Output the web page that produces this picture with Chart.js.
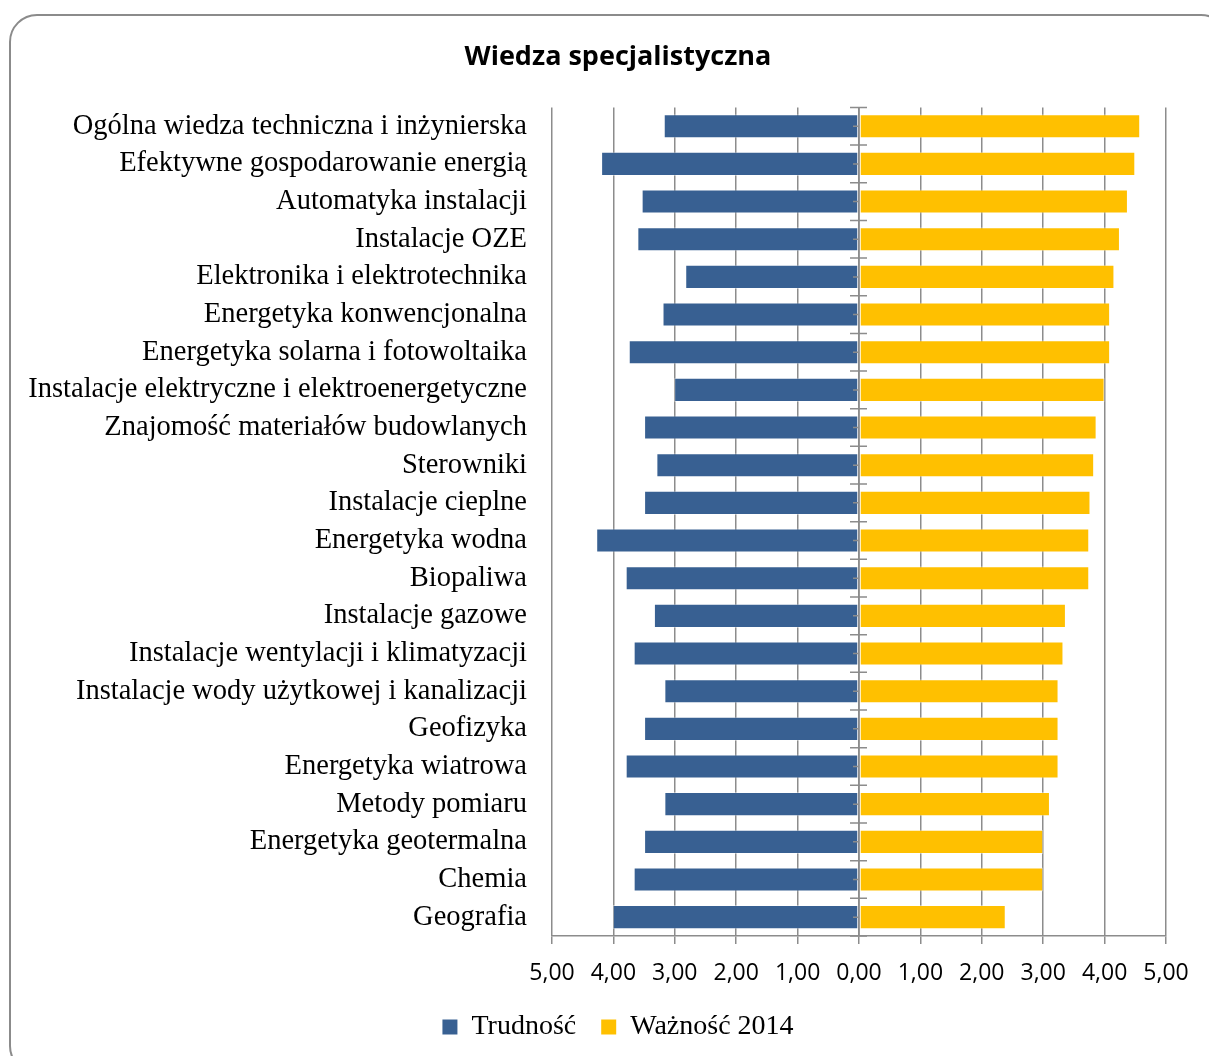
<!DOCTYPE html>
<html>
<head>
<meta charset="utf-8">
<title>Wiedza specjalistyczna</title>
<script src="https://cdn.jsdelivr.net/npm/chart.js@4"></script>
<style>
  html, body { margin: 0; padding: 0; background: #fff; overflow: hidden; }
  #wrap { position: relative; width: 1209px; height: 1056px; }
  #frame { position: absolute; left: 9px; top: 14px; width: 1220px; height: 1060px;
           border: 2px solid #8b8b8b; border-radius: 28px; box-sizing: border-box; }
  canvas { position: absolute; left: 0; top: 0; }
</style>
</head>
<body>
<div id="wrap">
  <div id="frame"></div>
  <canvas id="chart" width="1209" height="1056"></canvas>
</div>
<script>
// kategorie (od góry)
const categories = [
    'Ogólna wiedza techniczna i inżynierska',
    'Efektywne gospodarowanie energią',
    'Automatyka instalacji',
    'Instalacje OZE',
    'Elektronika i elektrotechnika',
    'Energetyka konwencjonalna',
    'Energetyka solarna i fotowoltaika',
    'Instalacje elektryczne i elektroenergetyczne',
    'Znajomość materiałów budowlanych',
    'Sterowniki',
    'Instalacje cieplne',
    'Energetyka wodna',
    'Biopaliwa',
    'Instalacje gazowe',
    'Instalacje wentylacji i klimatyzacji',
    'Instalacje wody użytkowej i kanalizacji',
    'Geofizyka',
    'Energetyka wiatrowa',
    'Metody pomiaru',
    'Energetyka geotermalna',
    'Chemia',
    'Geografia'
];

// Trudność (rysowana w lewo)
const trudnosc = [3.18, 4.20, 3.54, 3.61, 2.83, 3.20, 3.75, 3.01, 3.50, 3.30, 3.50,
                  4.28, 3.80, 3.34, 3.67, 3.17, 3.50, 3.80, 3.17, 3.50, 3.67, 4.01];

// Ważność 2014
const waznosc = [4.58, 4.50, 4.38, 4.25, 4.16, 4.09, 4.09, 4.00, 3.87, 3.83, 3.77,
                 3.75, 3.75, 3.37, 3.33, 3.25, 3.25, 3.25, 3.11, 3.00, 3.00, 2.39];

const xTicks = [-5, -4, -3, -2, -1, 0, 1, 2, 3, 4, 5];

const serif = '"Liberation Serif", "DejaVu Serif", serif';
const sans = '"Open Sans", "Liberation Sans", sans-serif';
const gridColor = '#8c8c8c';

// oś pionowa w zerze z kreskami podziału
const zeroAxis = {
    id: 'zeroAxis',
    afterLayout(chart) {
        // długie etykiety nie mogą być ucinane przez padding
        chart.scales.y.left = 0;
    },
    afterDatasetsDraw(chart) {
        const ctx = chart.ctx;
        const x = chart.scales.x;
        const y = chart.scales.y;
        const x0 = x.getPixelForValue(0);
        ctx.save();
        ctx.strokeStyle = gridColor;
        ctx.lineWidth = 1.5;
        ctx.beginPath();
        ctx.moveTo(x0, chart.chartArea.top);
        ctx.lineTo(x0, chart.chartArea.bottom);
        for (let i = 0; i <= categories.length; i++) {
            const yy = y.getPixelForValue(i - 0.5);
            ctx.moveTo(x0 - 9, yy);
            ctx.lineTo(x0 + 8, yy);
        }
        for (let i = 0; i < categories.length; i++) {
            const yy = y.getPixelForValue(i);
            ctx.moveTo(x0 - 6, yy);
            ctx.lineTo(x0 - 1, yy);
        }
        ctx.stroke();
        ctx.restore();
    }
};

new Chart(document.getElementById('chart').getContext('2d'), {
    type: 'bar',
    data: {
        labels: categories,
        datasets: [{
            label: 'Trudność',
            data: trudnosc.map(v => -v),
            backgroundColor: '#386092',
            borderColor: 'rgba(255,255,255,0.4)',
            borderWidth: 1,
            borderSkipped: false
        }, {
            label: 'Ważność 2014',
            data: waznosc,
            backgroundColor: '#FFC000',
            borderColor: 'rgba(255,255,255,0.4)',
            borderWidth: 1,
            borderSkipped: false
        }]
    },
    options: {
        indexAxis: 'y',
        responsive: false,
        animation: false,
        datasets: {
            bar: { categoryPercentage: 1, barPercentage: 0.64 }
        },
        layout: {
            padding: { top: 0, left: 70, right: 43, bottom: 5 }
        },
        plugins: {
            title: {
                display: true,
                text: 'Wiedza specjalistyczna',
                color: '#000',
                font: { family: sans, size: 27, weight: 'bold' },
                padding: { top: 41, bottom: 34 }
            },
            legend: {
                position: 'bottom',
                labels: {
                    color: '#000',
                    font: { family: serif, size: 28 },
                    boxWidth: 15,
                    boxHeight: 15,
                    padding: 4,
                    generateLabels(chart) {
                        const items = Chart.defaults.plugins.legend.labels.generateLabels(chart);
                        items.forEach((it, i) => {
                            it.lineWidth = 0;
                            if (i < items.length - 1) it.text = it.text + '   ';
                        });
                        return items;
                    }
                }
            },
            tooltip: { enabled: false }
        },
        scales: {
            x: {
                stacked: true,
                min: -5,
                max: 5,
                afterBuildTicks(scale) {
                    scale.ticks = xTicks.map(v => ({ value: v }));
                },
                afterFit(scale) { scale.height = 73; },
                ticks: {
                    color: '#000',
                    font: { family: sans, size: 23 },
                    padding: 16,
                    maxRotation: 0,
                    autoSkip: false,
                    callback: v => Math.abs(v).toFixed(2).replace('.', ',')
                },
                grid: {
                    color: gridColor,
                    lineWidth: 1.5,
                    tickLength: 8,
                    drawOnChartArea: true
                },
                border: { color: gridColor, width: 1.5 }
            },
            y: {
                stacked: true,
                afterFit(scale) { scale.width = 552 - 70; },
                ticks: {
                    color: '#000',
                    font: { family: serif, size: 28.5 },
                    padding: 25,
                    autoSkip: false
                },
                grid: { display: false, drawTicks: false },
                border: { display: false }
            }
        }
    },
    plugins: [zeroAxis]
});
</script>
</body>
</html>
